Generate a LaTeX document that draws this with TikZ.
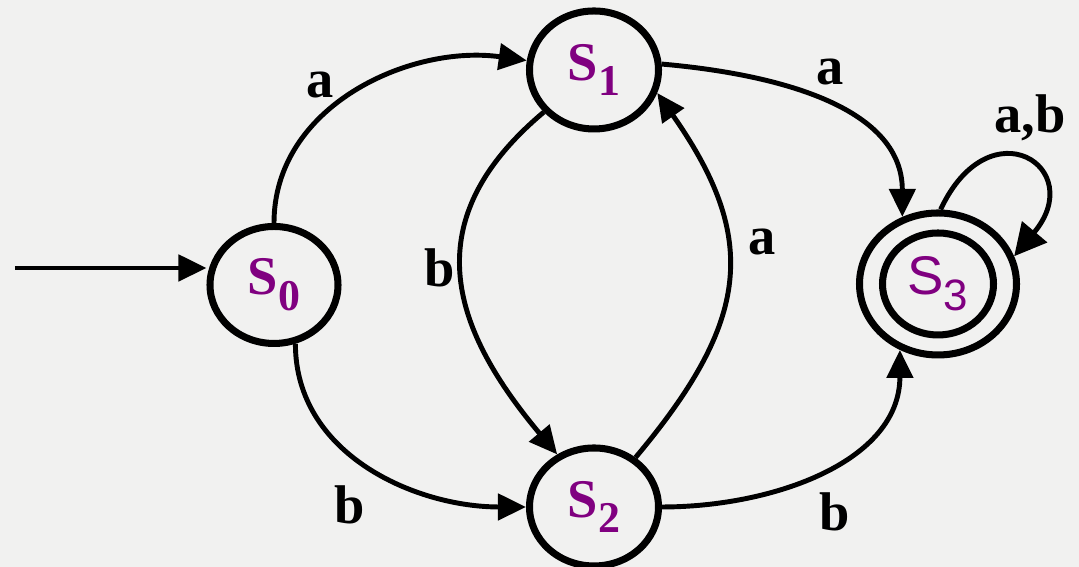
\documentclass[tikz,border=0pt]{standalone}
\usepackage{fontspec}
\setmainfont{Liberation Serif}
\newfontfamily\sansfnt{Liberation Sans}
\usetikzlibrary{shapes.geometric,arrows.meta}
\definecolor{bgcol}{RGB}{241,241,240}
\definecolor{stcol}{RGB}{128,0,128}
\newcommand{\stlabel}[1]{\fontsize{15.5}{15.5}\selectfont S\raisebox{-4.5pt}{\fontsize{12.5}{12.5}\selectfont #1}}

\begin{document}
\begin{tikzpicture}[>={Triangle[length=0.28cm,width=0.26cm]},
    stnode/.style={ellipse,draw,line width=2pt,inner sep=0pt,text=stcol,font=\bfseries,
        minimum width=1.29cm,minimum height=1.18cm},
    edge/.style={->,line width=1.4pt},
    lbl/.style={font=\bfseries\fontsize{15.5}{15.5}\selectfont}]
    \fill[bgcol] (0,0) rectangle (10.79,5.67);
    \useasboundingbox (0,0) rectangle (10.79,5.67);
    % states
    \node[stnode,minimum width=1.28cm,minimum height=1.17cm] (s0) at (2.74,2.82) {\stlabel{0}};
    \node[stnode] (s1) at (5.94,4.97) {\stlabel{1}};
    \node[stnode] (s2) at (5.94,0.60) {\stlabel{2}};
    \node[stnode,minimum width=1.57cm,minimum height=1.42cm] (s3) at (9.38,2.83) {};
    \node[stnode,minimum width=1.11cm,minimum height=1.02cm,font=\sansfnt] (s3in) at (s3) {\stlabel{3}};
    % start arrow
    \coordinate (init) at (0.15,2.99);
    \draw[edge] (init) -- (init -| s0.west);
    % transitions
    \draw[edge] (s0.north) to[out=90,in=172] (s1.172);
    \draw[edge] (s0.290) to[out=-90,in=180] (s2.west);
    \draw[edge] (s1.220) to[out=220,in=130,looseness=1.25] (s2.125);
    \draw[edge] (s2.50) to[out=50,in=-55,looseness=1.25] (s1.340);
    \draw[edge] (s1.5) to[out=-5,in=90] (s3.118);
    \draw[edge] (s2.east) to[out=0,in=-90] (s3.240);
    \draw[edge,>={Triangle[length=0.32cm,width=0.32cm]}] (s3.88) to[out=65,in=50,looseness=3.4] (s3.20);
    % labels
    \node[lbl] (la1) at (3.20,4.82) {a};
    \node[lbl] (lb1) at (3.50,0.62) {b};
    \node[lbl] (lb2) at (4.40,2.99) {b};
    \node[lbl] (la2) at (7.62,3.25) {a};
    \node[lbl] (la3) at (8.30,4.95) {a};
    \node[lbl] (lb3) at (8.35,0.55) {b};
    \node[lbl] (lab) at (10.30,4.49) {a,b};
\end{tikzpicture}
\end{document}
